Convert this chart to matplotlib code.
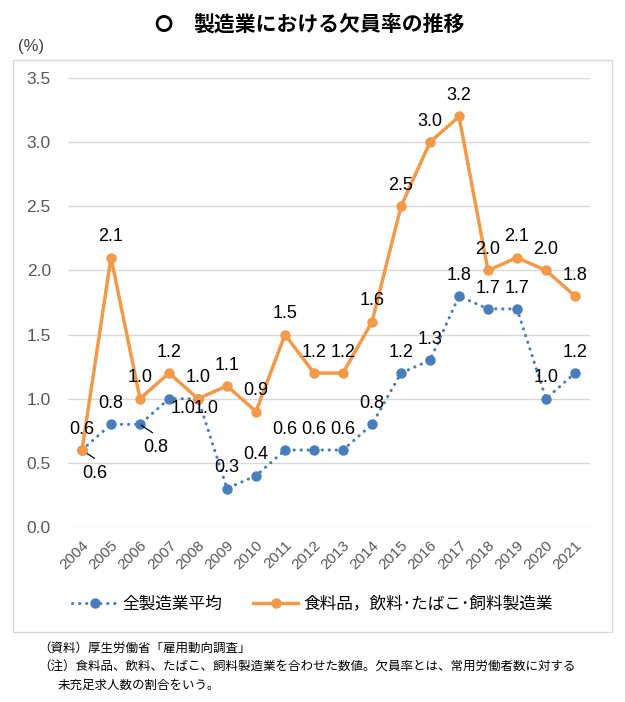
import matplotlib
matplotlib.use("Agg")
import matplotlib.pyplot as plt
from matplotlib.patches import Rectangle

plt.rcParams['font.family'] = ['Noto Sans CJK JP', 'DejaVu Sans']

years = list(range(2004, 2022))
all_mfg = [0.6, 0.8, 0.8, 1.0, 1.0, 0.3, 0.4, 0.6, 0.6, 0.6, 0.8, 1.2, 1.3, 1.8, 1.7, 1.7, 1.0, 1.2]
food_mfg = [0.6, 2.1, 1.0, 1.2, 1.0, 1.1, 0.9, 1.5, 1.2, 1.2, 1.6, 2.5, 3.0, 3.2, 2.0, 2.1, 2.0, 1.8]
y_ticks = [0.0, 0.5, 1.0, 1.5, 2.0, 2.5, 3.0, 3.5]

BLUE = '#4A7EBB'
ORANGE = '#F09A4A'
NUM_FONT = ['Liberation Sans', 'DejaVu Sans']

fig = plt.figure(figsize=(6.25, 7.02), dpi=100)
ax = fig.add_axes([67.5 / 625, 175 / 702, 522 / 625, 449 / 702])

x = list(range(len(years)))
ax.plot(x, all_mfg, color=BLUE, lw=2.2, ls=(0, (0.1, 2.2)), dash_capstyle='round',
        marker='o', ms=6.5, zorder=3, label='全製造業平均')
ax.plot(x, food_mfg, color=ORANGE, lw=2.5, marker='o', ms=6.5, zorder=4,
        label='食料品，飲料･たばこ･飼料製造業')

ax.set_xlim(-0.5, len(years) - 0.5)
ax.set_ylim(0, 3.5)
ax.set_yticks(y_ticks)
ax.set_yticklabels([f'{v:.1f}' for v in y_ticks], family=NUM_FONT, fontsize=12.5, color='#595959')
ax.set_xticks(x)
ax.set_xticklabels([str(y) for y in years], family=NUM_FONT, fontsize=11, color='#595959',
                   rotation=45, ha='right', rotation_mode='anchor')
ax.tick_params(axis='both', length=0)
ax.tick_params(axis='y', pad=12)
ax.tick_params(axis='x', pad=8)
ax.grid(axis='y', color='#d9d9d9', lw=1)
ax.set_axisbelow(True)
for s in ax.spines.values():
    s.set_visible(False)

# data labels, orange above every point
for i, v in enumerate(food_mfg):
    ax.annotate(f'{v:.1f}', (i, v), xytext=(0, 15), textcoords='offset points',
                ha='center', va='center', fontsize=13, family=NUM_FONT, zorder=5)

# blue labels: mostly above, a few moved aside
offsets = {0: (9, -17), 2: (11, -17), 3: (10, -7), 4: (6, -7)}
for i, v in enumerate(all_mfg):
    dx, dy = offsets.get(i, (0, 15))
    ax.annotate(f'{v:.1f}', (i, v), xytext=(dx, dy), textcoords='offset points',
                ha='center', va='center', fontsize=13, family=NUM_FONT, zorder=5)
    if i in (0, 2):
        # leader line
        ax.annotate('', (i, v), xytext=(9, -6), textcoords='offset points',
                    arrowprops=dict(arrowstyle='-', color='black', lw=0.9,
                                    shrinkA=0, shrinkB=1))

# chart frame
fig.add_artist(Rectangle((13 / 625, 70 / 702), 599 / 625, 572 / 702, transform=fig.transFigure,
                         fill=False, ec='#d9d9d9', lw=1))

fig.text(163 / 625, 1 - 24 / 702, '〇', ha='center', va='center', fontsize=13, fontweight='heavy')
fig.text(193 / 625, 1 - 24 / 702, '製造業における欠員率の推移', ha='left', va='center',
         fontsize=15, fontweight='bold')
fig.text(18 / 625, 1 - 47 / 702, '(%)', ha='left', va='center', fontsize=12,
         family=NUM_FONT, color='#404040')

handles, labels = ax.get_legend_handles_labels()
fig.legend(handles, labels, loc='center', bbox_to_anchor=(0.5, 98 / 702), ncol=2,
           frameon=False, fontsize=12, handlelength=2.7, handletextpad=0.3, columnspacing=1.9)

fig.text(38 / 625, 1 - 648 / 702, '（資料）厚生労働省「雇用動向調査」', ha='left', va='center', fontsize=9)
fig.text(38 / 625, 1 - 667 / 702,
         '（注）食料品、飲料、たばこ、飼料製造業を合わせた数値。欠員率とは、常用労働者数に対する',
         ha='left', va='center', fontsize=9)
fig.text(58 / 625, 1 - 685 / 702, '未充足求人数の割合をいう。', ha='left', va='center', fontsize=9)

fig.savefig('out.png', dpi=100, facecolor='white')
